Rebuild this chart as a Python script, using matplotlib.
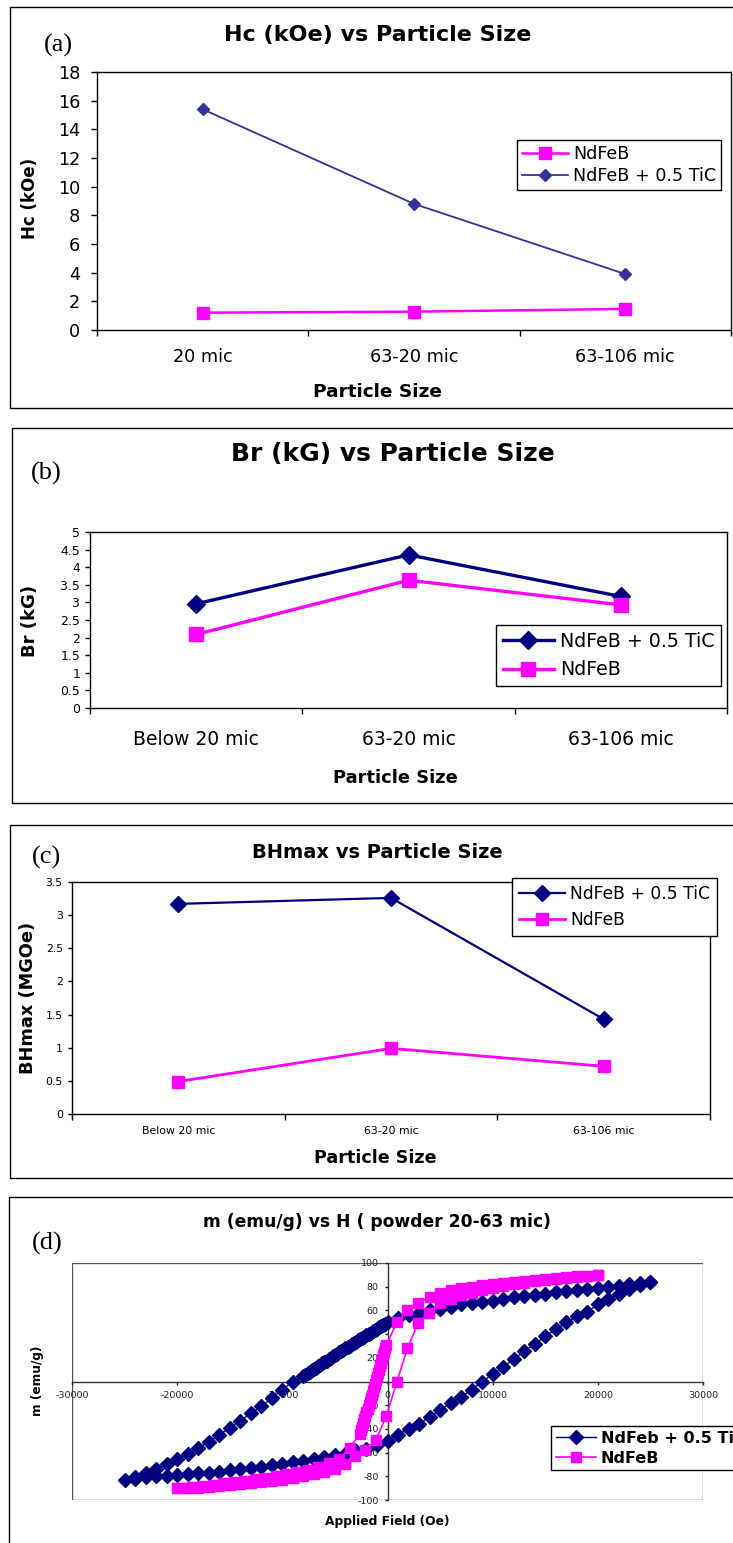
import matplotlib.pyplot as plt
import numpy as np
from matplotlib.patches import Rectangle
from matplotlib.ticker import FormatStrFormatter

plt.rcParams['font.family'] = 'DejaVu Sans'
plt.rcParams['axes.unicode_minus'] = False

W, H = 733, 1543

NAVY = '#000080'
INDIGO = '#333399'
MAGENTA = '#FF00FF'

# ---- data -------------------------------------------------------------------
sizes_a = ['20 mic', '63-20 mic', '63-106 mic']
sizes_bc = ['Below 20 mic', '63-20 mic', '63-106 mic']

hc_ndfeb = [1.21, 1.28, 1.47]
hc_tic = [15.4, 8.8, 3.9]

br_tic = [2.96, 4.35, 3.17]
br_ndfeb = [2.09, 3.63, 2.93]

bh_tic = [3.17, 3.26, 1.43]
bh_ndfeb = [0.49, 0.99, 0.72]

# hysteresis loop, NdFeB + 0.5 TiC, branch coming down from +25 kOe
tic_h_down = [25000, 24000, 23000, 22000, 21000, 20000, 19000, 18000, 17000,
              16000, 15000, 14000, 13000, 12000, 11000, 10000, 9000, 8000,
              7000, 6000, 5000, 4000, 3000, 2000, 1000,
              0, -200, -400, -600, -800, -1000, -1200, -1400, -1600, -1800,
              -2000, -2200, -2400, -2600, -2800, -3000, -3200, -3400, -3600,
              -3800, -4000, -4200, -4400, -4600, -4800, -5000, -5200, -5400,
              -5600, -5800, -6000, -6200, -6400, -6600, -6800, -7000, -7200,
              -7400, -7600, -7800, -8000,
              -9000, -10000, -11000, -12000, -13000, -14000, -15000, -16000,
              -17000, -18000, -19000, -20000, -21000, -22000, -23000, -24000,
              -25000]
tic_m_down = [84, 83, 82, 81, 80, 79, 78, 77.5, 76, 75.5, 74, 73, 72, 71, 70,
              68, 67, 66, 65, 63, 61, 60, 58, 56, 54,
              50.0, 48.9, 47.8, 46.7, 45.6, 44.5, 43.4, 42.3, 41.2, 40.1,
              39.0, 37.9, 36.8, 35.7, 34.6, 33.5, 32.4, 31.3, 30.2, 29.1,
              28.0, 26.9, 25.8, 24.7, 23.6, 22.5, 21.3, 20.1, 18.9, 17.7,
              16.5, 15.3, 14.1, 12.9, 11.7, 10.5, 9.3, 8.1, 6.9, 5.7, 4.5,
              0, -7, -14, -21, -27, -33, -39, -45, -51, -56, -61, -65.5, -70,
              -74, -77.5, -80.5, -83]
# branch going back up from -25 kOe
tic_h_up = [-24000, -23000, -22000, -21000, -20000, -19000, -18000, -17000,
            -16000, -15000, -14000, -13000, -12000, -11000, -10000, -9000,
            -8000, -7000, -6000, -5000, -4000, -3000, -2000, -1000, 0,
            1000, 2000, 3000, 4000, 5000, 6000, 7000, 8000, 9000, 10000,
            11000, 12000, 13000, 14000, 15000, 16000, 17000, 18000, 19000,
            20000, 21000, 22000, 23000, 24000, 25000]
tic_m_up = [-82, -81, -80, -79.5, -79, -78, -77.5, -77, -76, -75, -74, -73,
            -72, -70.5, -70, -68, -67, -65, -64, -62, -61, -59, -57, -54, -50,
            -45, -40, -35.5, -30, -24, -18, -13, -7, 0, 6, 12, 19, 25.5, 31.5,
            38, 44, 50, 55, 59, 65, 70, 74, 78, 81.5, 84]

# hysteresis loop, NdFeB
nd_h_down = [20000, 19000, 18000, 17000, 16000, 15000, 14000, 13000, 12000,
             11000, 10000, 9000, 8000, 7000, 6000, 5000, 4000, 2900, 1900, 900,
             -100, -200, -300, -400, -500, -600, -700, -800, -900, -1000,
             -1100, -1200, -1300, -1400, -1500, -1600, -1700, -1800, -1900,
             -2000, -2100, -2200, -2300, -2400, -2500, -2600,
             -3600, -4600, -5600, -6600, -7600, -8600, -9600, -10600, -11600,
             -12600, -13600, -14600, -15600, -16600, -17600, -18600, -19600,
             -20000]
nd_m_down = [90, 89.4, 88.8, 88.2, 87.5, 86.8, 86, 85.2, 84.3, 83.4, 82.4,
             81.3, 80.1, 78.7, 76.9, 74.5, 71.5, 66, 60, 50,
             31, 28, 25, 22, 19, 16, 13, 10, 7, 4, 1, -2, -5, -8, -11, -14,
             -17, -20, -23, -26, -29, -32, -35, -38, -41, -44,
             -56, -65, -69, -72, -74.5, -76.5, -78.3, -79.8, -81.2, -82.5,
             -83.8, -85, -86, -87, -88, -88.9, -89.6, -90]
nd_h_up = [-19000, -18000, -17000, -16000, -15000, -14000, -13000, -12000,
           -11000, -10000, -9000, -8000, -7000, -6000, -5000, -4000, -3100,
           -2100, -1100, -100, 900, 1900, 2900, 3900, 5000, 6000, 7000, 8000,
           9000, 10000, 11000, 12000, 13000, 14000, 15000, 16000, 17000,
           18000, 19000, 20000]
nd_m_up = [-90, -89.6, -89, -88.4, -87.7, -86.9, -86, -85, -84, -82.8, -81.5,
           -80, -78.2, -76, -73.5, -69.5, -63, -58, -49, -29, 0, 28, 49, 58,
           66, 70, 72.8, 75, 77, 78.8, 80.4, 81.9, 83.2, 84.4, 85.5, 86.5,
           87.5, 88.4, 89.2, 90]

# ---- layout helpers (pixel positions measured on the target) ----------------
fig = plt.figure(figsize=(W / 100, H / 100), dpi=100)


def fig_rect(l, t, r, b):
    return [l / W, 1 - b / H, (r - l) / W, (b - t) / H]


def frame(l, t, r, b):
    fig.add_artist(Rectangle((l / W, 1 - b / H), (r - l) / W, (b - t) / H,
                             transform=fig.transFigure, fill=False,
                             ec='black', lw=1))


def text_px(x, y, s, **kw):
    fig.text(x / W, 1 - y / H, s, ha='center', va='center', **kw)


def labels_px(ax, box, xlabel, xpos, ylabel, ypos, xsize, ysize):
    l, t, r, b = box
    ax.set_xlabel(xlabel, fontsize=xsize, fontweight='bold', va='center')
    ax.set_ylabel(ylabel, fontsize=ysize, fontweight='bold', va='center')
    ax.xaxis.set_label_coords((xpos[0] - l) / (r - l), (b - xpos[1]) / (b - t))
    ax.yaxis.set_label_coords((ypos[0] - l) / (r - l), (b - ypos[1]) / (b - t))


def legend_px(ax, x0, y0, size, **kw):
    opts = dict(loc='upper left', bbox_to_anchor=(x0 / W, 1 - y0 / H),
                bbox_transform=fig.transFigure, borderaxespad=0,
                fancybox=False, edgecolor='black', framealpha=1,
                handletextpad=0.3, borderpad=0.4, labelspacing=0.3,
                handlelength=2.6)
    opts.update(kw)
    leg = ax.legend(prop={'size': size, 'weight': opts.pop('weight', 'normal')},
                    **opts)
    leg.get_frame().set_linewidth(1)
    return leg


def category_axes(box, ymax, ystep, xlabels, xsize, ysize, xpad, ypad, ylen):
    ax = fig.add_axes(fig_rect(*box))
    ax.set_xlim(-0.5, 2.5)
    ax.set_ylim(0, ymax)
    ax.set_xticks([0, 1, 2])
    ax.set_xticklabels(xlabels, fontsize=xsize)
    ax.set_xticks([-0.5, 0.5, 1.5, 2.5], minor=True)
    ax.tick_params(axis='x', which='major', length=0, pad=xpad)
    ax.tick_params(axis='x', which='minor', length=4.5, width=1,
                   direction='out')
    ax.set_yticks(np.arange(0, ymax + ystep / 2, ystep))
    ax.yaxis.set_major_formatter(FormatStrFormatter('%g'))
    ax.tick_params(axis='y', labelsize=ysize, length=ylen, width=1, pad=ypad,
                   direction='out')
    for s in ax.spines.values():
        s.set_linewidth(1)
        s.set_color('black')
    return ax


serif = dict(family='Liberation Serif', fontsize=19)
x = np.arange(3)

# ---- (a) Hc ------------------------------------------------------------------
frame(10, 7, 740, 408)
box_a = (97, 72, 731, 330)
ax = category_axes(box_a, 18, 2, sizes_a, 12.7, 12.7, 13, 8, 4)
ax.plot(x, hc_ndfeb, color=MAGENTA, lw=1.8, marker='s', ms=8,
        label='NdFeB', zorder=3)
ax.plot(x, hc_tic, color=INDIGO, lw=1.3, marker='D', ms=6.5,
        label='NdFeB + 0.5 TiC', zorder=3)
labels_px(ax, box_a, 'Particle Size', (377, 392), 'Hc (kOe)', (30, 198),
          13.3, 12)
legend_px(ax, 517, 140, 12.6, borderpad=0.3, labelspacing=0.2)
text_px(378, 35, 'Hc (kOe) vs Particle Size', fontsize=16, fontweight='bold')
text_px(58, 45, '(a)', **serif)

# ---- (b) Br ------------------------------------------------------------------
frame(12, 428, 740, 803)
box_b = (90, 532, 727, 708)
ax = category_axes(box_b, 5, 0.5, sizes_bc, 13.5, 8.9, 16, 3.6, 3.5)
ax.plot(x, br_tic, color=NAVY, lw=2.4, marker='D', ms=9.5,
        label='NdFeB + 0.5 TiC', zorder=3)
ax.plot(x, br_ndfeb, color=MAGENTA, lw=2.4, marker='s', ms=9.5,
        label='NdFeB', zorder=3)
labels_px(ax, box_b, 'Particle Size', (395, 778), 'Br (kG)', (30, 621),
          12.9, 13)
legend_px(ax, 496, 625, 13.7, labelspacing=0.5, borderpad=0.35,
          handlelength=2.7)
text_px(393, 454, 'Br (kG) vs Particle Size', fontsize=18, fontweight='bold')
text_px(46, 473, '(b)', **serif)

# ---- (c) BHmax ---------------------------------------------------------------
frame(10, 825, 740, 1178)
box_c = (72, 882, 710, 1114)
ax = category_axes(box_c, 3.5, 0.5, sizes_bc, 7.8, 7.8, 9, 3.6, 3)
ax.plot(x, bh_tic, color=NAVY, lw=1.6, marker='D', ms=8.5,
        label='NdFeB + 0.5 TiC', zorder=3)
ax.plot(x, bh_ndfeb, color=MAGENTA, lw=2, marker='s', ms=9,
        label='NdFeB', zorder=3)
labels_px(ax, box_c, 'Particle Size', (375, 1158), 'BHmax (MGOe)', (28, 998),
          12.6, 12.8)
legend_px(ax, 512, 878, 12.3, labelspacing=0.5, borderpad=0.4,
          handlelength=2.7)
text_px(377, 853, 'BHmax vs Particle Size', fontsize=14, fontweight='bold')
text_px(46, 857, '(c)', **serif)

# ---- (d) hysteresis ----------------------------------------------------------
frame(9, 1197, 740, 1550)
box_d = (72, 1263, 703, 1500)
ax = fig.add_axes(fig_rect(*box_d))
ax.plot(tic_h_down + tic_h_up, tic_m_down + tic_m_up, color=NAVY, lw=1,
        marker='D', ms=7, label='NdFeb + 0.5 TiC', zorder=3)
ax.plot(nd_h_down + nd_h_up, nd_m_down + nd_m_up, color=MAGENTA, lw=1.2,
        marker='s', ms=7.5, label='NdFeB', zorder=3)
ax.set_xlim(-30000, 30000)
ax.set_ylim(-100, 100)
ax.set_xticks(np.arange(-30000, 30001, 10000))
ax.set_yticks(np.arange(-100, 101, 20))
ax.spines['left'].set_position(('data', 0))
ax.spines['bottom'].set_position(('data', 0))
ax.spines['top'].set_visible(False)
ax.spines['right'].set_visible(False)
for s in ('left', 'bottom'):
    ax.spines[s].set_color('#333333')
    ax.spines[s].set_linewidth(1)
ax.add_patch(Rectangle((0, 0), 1, 1, transform=ax.transAxes, fill=False,
                       ec='#555555', lw=1, zorder=0.5))
ax.tick_params(labelsize=6.8, length=2.5, width=1, pad=4, direction='out',
               colors='#222222')
labels_px(ax, box_d, 'Applied Field (Oe)', (387, 1522), 'm (emu/g)',
          (37, 1381), 8.8, 8.7)
legend_px(ax, 551, 1426, 11.5, weight='bold', labelspacing=0.3,
          borderpad=0.3, handlelength=2.5)
text_px(377, 1222, 'm (emu/g) vs H ( powder 20-63 mic)', fontsize=12.3,
        fontweight='bold')
text_px(47, 1243, '(d)', **serif)

fig.savefig('out.png', dpi=100)
